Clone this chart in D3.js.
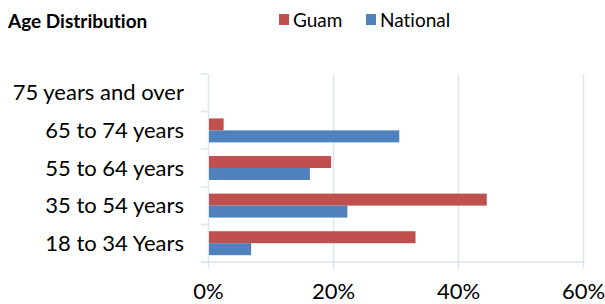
<!DOCTYPE html>
<html lang="en">
<head>
    <meta charset="UTF-8">
    <title>Age Distribution</title>
    <script src="https://d3js.org/d3.v7.min.js"></script>
    <style>
        body { margin: 0; background: #fff; }
        text { font-family: Lato, "Noto Sans", sans-serif; fill: #000; font-variant-ligatures: none; }
        .domain { display: none; }
    </style>
</head>
<body>
    <div id="chart"></div>

    <script>
        // Data (percent)
        var categories = ["75 years and over", "65 to 74 years", "55 to 64 years", "35 to 54 years", "18 to 34 Years"];
        var seriesNames = ["Guam", "National"];
        var guam = [0, 2.5, 19.7, 44.6, 33.2];
        var national = [0, 30.6, 16.3, 22.3, 6.9];
        var tickValues = [0, 20, 40, 60];

        var colors = { "Guam": "#c0504d", "National": "#4f81bd" };
        var gridColor = "#dde5ef";

        var width = 605, height = 304;
        var plotLeft = 208, plotRight = 583, plotTop = 74, plotBottom = 262;

        var svg = d3.select("#chart")
                    .append("svg")
                    .attr("width", width)
                    .attr("height", height);

        var x = d3.scaleLinear().domain([0, 60]).range([plotLeft, plotRight]);
        var y = d3.scaleBand().domain(categories).range([plotTop, plotBottom]);
        var sub = d3.scaleBand().domain(seriesNames).range([0, y.bandwidth()]).paddingOuter(0.57);

        // Gridlines (extend a little below the axis like tick marks)
        svg.append("g")
           .selectAll("line")
           .data(tickValues)
           .enter()
           .append("line")
           .attr("x1", function(d) { return x(d) + 0.5; })
           .attr("x2", function(d) { return x(d) + 0.5; })
           .attr("y1", plotTop)
           .attr("y2", plotBottom + 7)
           .attr("stroke", gridColor)
           .attr("stroke-width", 1.5);

        // Category axis ticks
        var bounds = [plotTop].concat(categories.map(function(c) { return y(c) + y.bandwidth(); }));
        svg.append("g")
           .selectAll("line")
           .data(bounds)
           .enter()
           .append("line")
           .attr("x1", plotLeft - 7)
           .attr("x2", plotLeft)
           .attr("y1", function(d) { return d; })
           .attr("y2", function(d) { return d; })
           .attr("stroke", gridColor)
           .attr("stroke-width", 1.5);

        // Bottom axis line
        svg.append("line")
           .attr("x1", plotLeft - 7)
           .attr("x2", plotRight)
           .attr("y1", plotBottom)
           .attr("y2", plotBottom)
           .attr("stroke", gridColor)
           .attr("stroke-width", 1.5);

        // Bars
        var rows = categories.map(function(c, i) {
            return { cat: c, values: [
                { name: "Guam", value: guam[i] },
                { name: "National", value: national[i] }
            ] };
        });

        var groups = svg.append("g")
                        .selectAll("g")
                        .data(rows)
                        .enter()
                        .append("g")
                        .attr("transform", function(d) { return "translate(0," + y(d.cat) + ")"; });

        groups.selectAll("rect")
              .data(function(d) { return d.values; })
              .enter()
              .append("rect")
              .attr("x", x(0) + 1)
              .attr("y", function(d) { return sub(d.name); })
              .attr("width", function(d) { return Math.max(0, x(d.value) - x(0) - 1); })
              .attr("height", sub.bandwidth())
              .attr("fill", function(d) { return colors[d.name]; });

        // Category labels
        svg.append("g")
           .selectAll("text")
           .data(categories)
           .enter()
           .append("text")
           .attr("x", 184)
           .attr("y", function(d) { return y(d) + y.bandwidth() / 2 + 7.5; })
           .attr("text-anchor", "end")
           .style("font-size", "22px")
           .text(function(d) { return d; });

        // X axis labels
        var xAxis = d3.axisBottom(x)
                      .tickValues(tickValues)
                      .tickSize(0)
                      .tickPadding(0)
                      .tickFormat(function(d) { return d + "%"; });

        var gx = svg.append("g")
                    .attr("transform", "translate(0," + plotBottom + ")")
                    .call(xAxis);
        gx.selectAll("text")
          .attr("y", 37)
          .attr("dy", 0)
          .style("font-size", "22px")
          .style("font-family", "Lato, 'Noto Sans', sans-serif")
          .attr("fill", "#000");

        // Title
        svg.append("text")
           .attr("x", 8)
           .attr("y", 28)
           .style("font-size", "19px")
           .style("font-weight", "bold")
           .text("Age Distribution");

        // Legend
        var legendX = [279, 366];
        var legend = svg.append("g")
                        .selectAll("g")
                        .data(seriesNames)
                        .enter()
                        .append("g")
                        .attr("transform", function(d, i) { return "translate(" + legendX[i] + ",14)"; });

        legend.append("rect")
              .attr("width", 10)
              .attr("height", 11)
              .attr("fill", function(d) { return colors[d]; });

        legend.append("text")
              .attr("x", 14)
              .attr("y", 13)
              .style("font-size", "19px")
              .text(function(d) { return d; });
    </script>
</body>
</html>
